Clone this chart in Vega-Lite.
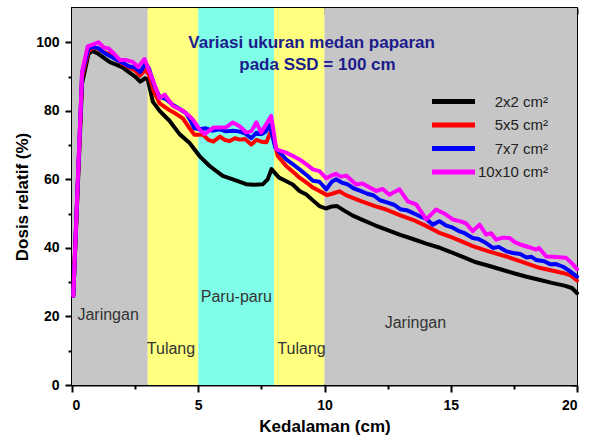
{
  "$schema": "https://vega.github.io/schema/vega-lite/v6.json",
  "width": 505,
  "height": 377,
  "autosize": {"type": "none"},
  "padding": {"left": 72, "top": 8, "right": 13, "bottom": 52},
  "background": "white",
  "config": {
    "view": {"stroke": "black", "strokeWidth": 2},
    "font": "Liberation Sans",
    "axis": {"grid": false, "zindex": 1, "ticks": true, "tickColor": "black", "tickOpacity": 1, "tickWidth": 2, "domainColor": "black", "domainWidth": 2}
  },
  "datasets": {
    "regions": [
      {"tissue": "Jaringan", "start": 0, "end": 3},
      {"tissue": "Tulang", "start": 3, "end": 5},
      {"tissue": "Paru-paru", "start": 5, "end": 8},
      {"tissue": "Tulang", "start": 8, "end": 10},
      {"tissue": "Jaringan", "start": 10, "end": 20}
    ],
    "dose": [
      {"field": "2x2 cm²", "depth": 0.05, "dose": 26},
      {"field": "2x2 cm²", "depth": 0.4, "dose": 88},
      {"field": "2x2 cm²", "depth": 0.65, "dose": 96.5},
      {"field": "2x2 cm²", "depth": 0.8, "dose": 97.5},
      {"field": "2x2 cm²", "depth": 1.0, "dose": 96.8},
      {"field": "2x2 cm²", "depth": 1.25, "dose": 95.5},
      {"field": "2x2 cm²", "depth": 1.5, "dose": 94.2},
      {"field": "2x2 cm²", "depth": 1.75, "dose": 93.5},
      {"field": "2x2 cm²", "depth": 2.0, "dose": 92.7},
      {"field": "2x2 cm²", "depth": 2.25, "dose": 91.3},
      {"field": "2x2 cm²", "depth": 2.5, "dose": 90},
      {"field": "2x2 cm²", "depth": 2.7, "dose": 88.5},
      {"field": "2x2 cm²", "depth": 2.9, "dose": 89.5},
      {"field": "2x2 cm²", "depth": 3.0, "dose": 89.2},
      {"field": "2x2 cm²", "depth": 3.2, "dose": 82.7},
      {"field": "2x2 cm²", "depth": 3.47, "dose": 80},
      {"field": "2x2 cm²", "depth": 3.86, "dose": 77.1},
      {"field": "2x2 cm²", "depth": 4.26, "dose": 73.2},
      {"field": "2x2 cm²", "depth": 4.65, "dose": 70.7},
      {"field": "2x2 cm²", "depth": 5.05, "dose": 66.8},
      {"field": "2x2 cm²", "depth": 5.45, "dose": 63.9},
      {"field": "2x2 cm²", "depth": 5.97, "dose": 61},
      {"field": "2x2 cm²", "depth": 6.37, "dose": 60},
      {"field": "2x2 cm²", "depth": 6.9, "dose": 58.6},
      {"field": "2x2 cm²", "depth": 7.2, "dose": 58.4},
      {"field": "2x2 cm²", "depth": 7.56, "dose": 58.6},
      {"field": "2x2 cm²", "depth": 7.75, "dose": 60},
      {"field": "2x2 cm²", "depth": 7.9, "dose": 63},
      {"field": "2x2 cm²", "depth": 8.2, "dose": 60.5},
      {"field": "2x2 cm²", "depth": 8.45, "dose": 59.6},
      {"field": "2x2 cm²", "depth": 8.74, "dose": 58.5},
      {"field": "2x2 cm²", "depth": 9.01, "dose": 56.6},
      {"field": "2x2 cm²", "depth": 9.28, "dose": 55.6},
      {"field": "2x2 cm²", "depth": 9.55, "dose": 53.8},
      {"field": "2x2 cm²", "depth": 9.8, "dose": 52.2},
      {"field": "2x2 cm²", "depth": 10.05, "dose": 51.5},
      {"field": "2x2 cm²", "depth": 10.3, "dose": 52.1},
      {"field": "2x2 cm²", "depth": 10.5, "dose": 52.2},
      {"field": "2x2 cm²", "depth": 10.8, "dose": 50.8},
      {"field": "2x2 cm²", "depth": 11.1, "dose": 49.5},
      {"field": "2x2 cm²", "depth": 11.5, "dose": 48.2},
      {"field": "2x2 cm²", "depth": 12.0, "dose": 46.6},
      {"field": "2x2 cm²", "depth": 12.5, "dose": 45.2},
      {"field": "2x2 cm²", "depth": 13.0, "dose": 43.8},
      {"field": "2x2 cm²", "depth": 13.5, "dose": 42.6},
      {"field": "2x2 cm²", "depth": 14.0, "dose": 41.3},
      {"field": "2x2 cm²", "depth": 14.5, "dose": 40.2},
      {"field": "2x2 cm²", "depth": 15.0, "dose": 38.8},
      {"field": "2x2 cm²", "depth": 15.5, "dose": 37.3},
      {"field": "2x2 cm²", "depth": 16.0, "dose": 35.8},
      {"field": "2x2 cm²", "depth": 16.5, "dose": 34.8},
      {"field": "2x2 cm²", "depth": 17.0, "dose": 33.7},
      {"field": "2x2 cm²", "depth": 17.5, "dose": 32.6},
      {"field": "2x2 cm²", "depth": 18.0, "dose": 31.6},
      {"field": "2x2 cm²", "depth": 18.5, "dose": 30.7},
      {"field": "2x2 cm²", "depth": 19.0, "dose": 29.8},
      {"field": "2x2 cm²", "depth": 19.5, "dose": 29},
      {"field": "2x2 cm²", "depth": 19.8, "dose": 28.3},
      {"field": "2x2 cm²", "depth": 20.0, "dose": 26.8},

      {"field": "5x5 cm²", "depth": 0.05, "dose": 26},
      {"field": "5x5 cm²", "depth": 0.4, "dose": 90},
      {"field": "5x5 cm²", "depth": 0.65, "dose": 97.5},
      {"field": "5x5 cm²", "depth": 0.85, "dose": 98.5},
      {"field": "5x5 cm²", "depth": 1.05, "dose": 98},
      {"field": "5x5 cm²", "depth": 1.3, "dose": 97},
      {"field": "5x5 cm²", "depth": 1.5, "dose": 96.5},
      {"field": "5x5 cm²", "depth": 1.75, "dose": 95},
      {"field": "5x5 cm²", "depth": 2.0, "dose": 93.8},
      {"field": "5x5 cm²", "depth": 2.25, "dose": 92.7},
      {"field": "5x5 cm²", "depth": 2.5, "dose": 91.8},
      {"field": "5x5 cm²", "depth": 2.7, "dose": 90.3},
      {"field": "5x5 cm²", "depth": 2.9, "dose": 92},
      {"field": "5x5 cm²", "depth": 3.05, "dose": 90.5},
      {"field": "5x5 cm²", "depth": 3.25, "dose": 85.5},
      {"field": "5x5 cm²", "depth": 3.47, "dose": 82.2},
      {"field": "5x5 cm²", "depth": 3.86, "dose": 80.2},
      {"field": "5x5 cm²", "depth": 4.1, "dose": 79.2},
      {"field": "5x5 cm²", "depth": 4.39, "dose": 77.8},
      {"field": "5x5 cm²", "depth": 4.6, "dose": 75.5},
      {"field": "5x5 cm²", "depth": 4.85, "dose": 73},
      {"field": "5x5 cm²", "depth": 5.2, "dose": 73},
      {"field": "5x5 cm²", "depth": 5.4, "dose": 71.5},
      {"field": "5x5 cm²", "depth": 5.6, "dose": 71},
      {"field": "5x5 cm²", "depth": 5.86, "dose": 72.5},
      {"field": "5x5 cm²", "depth": 6.05, "dose": 71.5},
      {"field": "5x5 cm²", "depth": 6.25, "dose": 71.2},
      {"field": "5x5 cm²", "depth": 6.45, "dose": 72},
      {"field": "5x5 cm²", "depth": 6.65, "dose": 71.6},
      {"field": "5x5 cm²", "depth": 6.85, "dose": 71.8},
      {"field": "5x5 cm²", "depth": 7.1, "dose": 70.2},
      {"field": "5x5 cm²", "depth": 7.3, "dose": 71.5},
      {"field": "5x5 cm²", "depth": 7.5, "dose": 71},
      {"field": "5x5 cm²", "depth": 7.7, "dose": 70.8},
      {"field": "5x5 cm²", "depth": 7.89, "dose": 74.3},
      {"field": "5x5 cm²", "depth": 8.15, "dose": 66.8},
      {"field": "5x5 cm²", "depth": 8.48, "dose": 63.9},
      {"field": "5x5 cm²", "depth": 8.75, "dose": 62.2},
      {"field": "5x5 cm²", "depth": 9.01, "dose": 60.5},
      {"field": "5x5 cm²", "depth": 9.3, "dose": 59},
      {"field": "5x5 cm²", "depth": 9.54, "dose": 57.6},
      {"field": "5x5 cm²", "depth": 9.8, "dose": 56.6},
      {"field": "5x5 cm²", "depth": 10.1, "dose": 55.4},
      {"field": "5x5 cm²", "depth": 10.3, "dose": 55.8},
      {"field": "5x5 cm²", "depth": 10.59, "dose": 56.5},
      {"field": "5x5 cm²", "depth": 10.85, "dose": 55.4},
      {"field": "5x5 cm²", "depth": 11.12, "dose": 54.6},
      {"field": "5x5 cm²", "depth": 11.5, "dose": 53.5},
      {"field": "5x5 cm²", "depth": 12.0, "dose": 52.2},
      {"field": "5x5 cm²", "depth": 12.44, "dose": 51.2},
      {"field": "5x5 cm²", "depth": 13.0, "dose": 49.5},
      {"field": "5x5 cm²", "depth": 13.5, "dose": 48.2},
      {"field": "5x5 cm²", "depth": 14.0, "dose": 46.5},
      {"field": "5x5 cm²", "depth": 14.55, "dose": 44.4},
      {"field": "5x5 cm²", "depth": 15.0, "dose": 43.2},
      {"field": "5x5 cm²", "depth": 15.5, "dose": 41.7},
      {"field": "5x5 cm²", "depth": 15.87, "dose": 40.5},
      {"field": "5x5 cm²", "depth": 16.5, "dose": 39},
      {"field": "5x5 cm²", "depth": 17.2, "dose": 37.5},
      {"field": "5x5 cm²", "depth": 17.8, "dose": 36},
      {"field": "5x5 cm²", "depth": 18.51, "dose": 34.2},
      {"field": "5x5 cm²", "depth": 19.0, "dose": 33.4},
      {"field": "5x5 cm²", "depth": 19.44, "dose": 32.7},
      {"field": "5x5 cm²", "depth": 19.75, "dose": 32},
      {"field": "5x5 cm²", "depth": 20.0, "dose": 30.5},

      {"field": "7x7 cm²", "depth": 0.05, "dose": 26},
      {"field": "7x7 cm²", "depth": 0.4, "dose": 91},
      {"field": "7x7 cm²", "depth": 0.65, "dose": 98.2},
      {"field": "7x7 cm²", "depth": 0.85, "dose": 98.6},
      {"field": "7x7 cm²", "depth": 1.05, "dose": 98.2},
      {"field": "7x7 cm²", "depth": 1.3, "dose": 96.8},
      {"field": "7x7 cm²", "depth": 1.5, "dose": 96},
      {"field": "7x7 cm²", "depth": 1.75, "dose": 95},
      {"field": "7x7 cm²", "depth": 2.0, "dose": 94},
      {"field": "7x7 cm²", "depth": 2.25, "dose": 93},
      {"field": "7x7 cm²", "depth": 2.5, "dose": 92.6},
      {"field": "7x7 cm²", "depth": 2.7, "dose": 91.3},
      {"field": "7x7 cm²", "depth": 2.92, "dose": 93.8},
      {"field": "7x7 cm²", "depth": 3.05, "dose": 92.3},
      {"field": "7x7 cm²", "depth": 3.25, "dose": 87.5},
      {"field": "7x7 cm²", "depth": 3.47, "dose": 84.1},
      {"field": "7x7 cm²", "depth": 3.7, "dose": 83.5},
      {"field": "7x7 cm²", "depth": 4.0, "dose": 81.7},
      {"field": "7x7 cm²", "depth": 4.25, "dose": 80.6},
      {"field": "7x7 cm²", "depth": 4.52, "dose": 79.3},
      {"field": "7x7 cm²", "depth": 4.7, "dose": 77},
      {"field": "7x7 cm²", "depth": 4.85, "dose": 74.9},
      {"field": "7x7 cm²", "depth": 5.05, "dose": 74.6},
      {"field": "7x7 cm²", "depth": 5.3, "dose": 74.9},
      {"field": "7x7 cm²", "depth": 5.55, "dose": 74.2},
      {"field": "7x7 cm²", "depth": 5.84, "dose": 74.6},
      {"field": "7x7 cm²", "depth": 6.1, "dose": 74},
      {"field": "7x7 cm²", "depth": 6.37, "dose": 74.2},
      {"field": "7x7 cm²", "depth": 6.6, "dose": 74},
      {"field": "7x7 cm²", "depth": 6.85, "dose": 73.4},
      {"field": "7x7 cm²", "depth": 7.1, "dose": 72},
      {"field": "7x7 cm²", "depth": 7.3, "dose": 73.6},
      {"field": "7x7 cm²", "depth": 7.5, "dose": 73.2},
      {"field": "7x7 cm²", "depth": 7.65, "dose": 73.8},
      {"field": "7x7 cm²", "depth": 7.84, "dose": 75.8},
      {"field": "7x7 cm²", "depth": 8.05, "dose": 69.3},
      {"field": "7x7 cm²", "depth": 8.3, "dose": 67.3},
      {"field": "7x7 cm²", "depth": 8.48, "dose": 65.8},
      {"field": "7x7 cm²", "depth": 8.75, "dose": 64.4},
      {"field": "7x7 cm²", "depth": 9.01, "dose": 62.9},
      {"field": "7x7 cm²", "depth": 9.3, "dose": 61.2},
      {"field": "7x7 cm²", "depth": 9.54, "dose": 59.6},
      {"field": "7x7 cm²", "depth": 9.8, "dose": 59.3},
      {"field": "7x7 cm²", "depth": 10.07, "dose": 57.1},
      {"field": "7x7 cm²", "depth": 10.3, "dose": 59.4},
      {"field": "7x7 cm²", "depth": 10.46, "dose": 60},
      {"field": "7x7 cm²", "depth": 10.7, "dose": 59},
      {"field": "7x7 cm²", "depth": 10.9, "dose": 58.6},
      {"field": "7x7 cm²", "depth": 11.15, "dose": 57.4},
      {"field": "7x7 cm²", "depth": 11.4, "dose": 56.7},
      {"field": "7x7 cm²", "depth": 11.7, "dose": 55.8},
      {"field": "7x7 cm²", "depth": 11.95, "dose": 55.3},
      {"field": "7x7 cm²", "depth": 12.2, "dose": 53.9},
      {"field": "7x7 cm²", "depth": 12.5, "dose": 53.2},
      {"field": "7x7 cm²", "depth": 12.75, "dose": 52.6},
      {"field": "7x7 cm²", "depth": 13.0, "dose": 51.3},
      {"field": "7x7 cm²", "depth": 13.25, "dose": 51},
      {"field": "7x7 cm²", "depth": 13.5, "dose": 50.2},
      {"field": "7x7 cm²", "depth": 13.76, "dose": 49.3},
      {"field": "7x7 cm²", "depth": 14.0, "dose": 48.6},
      {"field": "7x7 cm²", "depth": 14.29, "dose": 46.8},
      {"field": "7x7 cm²", "depth": 14.55, "dose": 47.8},
      {"field": "7x7 cm²", "depth": 14.8, "dose": 46.6},
      {"field": "7x7 cm²", "depth": 15.08, "dose": 45.9},
      {"field": "7x7 cm²", "depth": 15.3, "dose": 45},
      {"field": "7x7 cm²", "depth": 15.55, "dose": 44.3},
      {"field": "7x7 cm²", "depth": 15.87, "dose": 42.9},
      {"field": "7x7 cm²", "depth": 16.1, "dose": 42.6},
      {"field": "7x7 cm²", "depth": 16.4, "dose": 41.4},
      {"field": "7x7 cm²", "depth": 16.67, "dose": 40},
      {"field": "7x7 cm²", "depth": 16.9, "dose": 40.3},
      {"field": "7x7 cm²", "depth": 17.2, "dose": 39},
      {"field": "7x7 cm²", "depth": 17.46, "dose": 38.5},
      {"field": "7x7 cm²", "depth": 17.75, "dose": 38.2},
      {"field": "7x7 cm²", "depth": 18.0, "dose": 37.2},
      {"field": "7x7 cm²", "depth": 18.2, "dose": 37.4},
      {"field": "7x7 cm²", "depth": 18.38, "dose": 36.5},
      {"field": "7x7 cm²", "depth": 18.7, "dose": 36.1},
      {"field": "7x7 cm²", "depth": 18.95, "dose": 35.2},
      {"field": "7x7 cm²", "depth": 19.17, "dose": 35.3},
      {"field": "7x7 cm²", "depth": 19.45, "dose": 34.5},
      {"field": "7x7 cm²", "depth": 19.7, "dose": 33.3},
      {"field": "7x7 cm²", "depth": 20.0, "dose": 31.6},

      {"field": "10x10 cm²", "depth": 0.05, "dose": 26},
      {"field": "10x10 cm²", "depth": 0.4, "dose": 91.5},
      {"field": "10x10 cm²", "depth": 0.62, "dose": 98.8},
      {"field": "10x10 cm²", "depth": 0.82, "dose": 99.3},
      {"field": "10x10 cm²", "depth": 1.05, "dose": 100},
      {"field": "10x10 cm²", "depth": 1.25, "dose": 98.5},
      {"field": "10x10 cm²", "depth": 1.45, "dose": 98.2},
      {"field": "10x10 cm²", "depth": 1.65, "dose": 96.8},
      {"field": "10x10 cm²", "depth": 1.9, "dose": 94.8},
      {"field": "10x10 cm²", "depth": 2.15, "dose": 94.8},
      {"field": "10x10 cm²", "depth": 2.4, "dose": 94.3},
      {"field": "10x10 cm²", "depth": 2.62, "dose": 92.8},
      {"field": "10x10 cm²", "depth": 2.87, "dose": 95.1},
      {"field": "10x10 cm²", "depth": 3.2, "dose": 89},
      {"field": "10x10 cm²", "depth": 3.47, "dose": 83.7},
      {"field": "10x10 cm²", "depth": 3.67, "dose": 84.7},
      {"field": "10x10 cm²", "depth": 4.0, "dose": 81.4},
      {"field": "10x10 cm²", "depth": 4.4, "dose": 80},
      {"field": "10x10 cm²", "depth": 4.6, "dose": 78.8},
      {"field": "10x10 cm²", "depth": 4.78, "dose": 77.5},
      {"field": "10x10 cm²", "depth": 5.05, "dose": 74.6},
      {"field": "10x10 cm²", "depth": 5.25, "dose": 73.2},
      {"field": "10x10 cm²", "depth": 5.6, "dose": 75.1},
      {"field": "10x10 cm²", "depth": 5.84, "dose": 75.1},
      {"field": "10x10 cm²", "depth": 6.1, "dose": 75.2},
      {"field": "10x10 cm²", "depth": 6.37, "dose": 76.6},
      {"field": "10x10 cm²", "depth": 6.65, "dose": 75.4},
      {"field": "10x10 cm²", "depth": 6.9, "dose": 73.7},
      {"field": "10x10 cm²", "depth": 7.1, "dose": 74},
      {"field": "10x10 cm²", "depth": 7.3, "dose": 76.6},
      {"field": "10x10 cm²", "depth": 7.49, "dose": 73.7},
      {"field": "10x10 cm²", "depth": 7.89, "dose": 78.5},
      {"field": "10x10 cm²", "depth": 8.09, "dose": 68.8},
      {"field": "10x10 cm²", "depth": 8.3, "dose": 68.2},
      {"field": "10x10 cm²", "depth": 8.48, "dose": 67.8},
      {"field": "10x10 cm²", "depth": 8.75, "dose": 66.8},
      {"field": "10x10 cm²", "depth": 9.01, "dose": 65.8},
      {"field": "10x10 cm²", "depth": 9.3, "dose": 64.3},
      {"field": "10x10 cm²", "depth": 9.54, "dose": 62.9},
      {"field": "10x10 cm²", "depth": 9.8, "dose": 62.4},
      {"field": "10x10 cm²", "depth": 10.07, "dose": 60.3},
      {"field": "10x10 cm²", "depth": 10.3, "dose": 61.2},
      {"field": "10x10 cm²", "depth": 10.46, "dose": 61.6},
      {"field": "10x10 cm²", "depth": 10.65, "dose": 60.8},
      {"field": "10x10 cm²", "depth": 10.86, "dose": 61.1},
      {"field": "10x10 cm²", "depth": 11.25, "dose": 58.5},
      {"field": "10x10 cm²", "depth": 11.5, "dose": 58.8},
      {"field": "10x10 cm²", "depth": 11.7, "dose": 58},
      {"field": "10x10 cm²", "depth": 12.05, "dose": 56.6},
      {"field": "10x10 cm²", "depth": 12.3, "dose": 57.2},
      {"field": "10x10 cm²", "depth": 12.57, "dose": 55.5},
      {"field": "10x10 cm²", "depth": 12.97, "dose": 57.1},
      {"field": "10x10 cm²", "depth": 13.3, "dose": 53.6},
      {"field": "10x10 cm²", "depth": 13.63, "dose": 52.7},
      {"field": "10x10 cm²", "depth": 14.03, "dose": 48.3},
      {"field": "10x10 cm²", "depth": 14.42, "dose": 51.2},
      {"field": "10x10 cm²", "depth": 14.8, "dose": 49.8},
      {"field": "10x10 cm²", "depth": 15.08, "dose": 48.3},
      {"field": "10x10 cm²", "depth": 15.35, "dose": 47.8},
      {"field": "10x10 cm²", "depth": 15.6, "dose": 47.2},
      {"field": "10x10 cm²", "depth": 15.87, "dose": 44.9},
      {"field": "10x10 cm²", "depth": 16.14, "dose": 46.8},
      {"field": "10x10 cm²", "depth": 16.4, "dose": 43.9},
      {"field": "10x10 cm²", "depth": 16.6, "dose": 44.3},
      {"field": "10x10 cm²", "depth": 16.8, "dose": 42.4},
      {"field": "10x10 cm²", "depth": 17.05, "dose": 43},
      {"field": "10x10 cm²", "depth": 17.33, "dose": 42.9},
      {"field": "10x10 cm²", "depth": 17.55, "dose": 41.6},
      {"field": "10x10 cm²", "depth": 17.75, "dose": 41},
      {"field": "10x10 cm²", "depth": 18.1, "dose": 40.2},
      {"field": "10x10 cm²", "depth": 18.38, "dose": 39.5},
      {"field": "10x10 cm²", "depth": 18.5, "dose": 40},
      {"field": "10x10 cm²", "depth": 18.78, "dose": 37.5},
      {"field": "10x10 cm²", "depth": 19.05, "dose": 37.4},
      {"field": "10x10 cm²", "depth": 19.3, "dose": 37.3},
      {"field": "10x10 cm²", "depth": 19.57, "dose": 37.1},
      {"field": "10x10 cm²", "depth": 19.8, "dose": 35.5},
      {"field": "10x10 cm²", "depth": 20.0, "dose": 33.8}
    ]
  },
  "layer": [
    {
      "data": {"name": "regions"},
      "mark": {"type": "rect"},
      "encoding": {
        "x": {
          "field": "start", "type": "quantitative",
          "scale": {"domain": [0, 20], "nice": false, "zero": false},
          "axis": {
            "orient": "bottom", "values": [0, 2.5, 5, 7.5, 10, 12.5, 15, 17.5, 20],
            "tickSize": {"condition": {"test": "datum.value % 5 === 0", "value": 7}, "value": 4},
            "labelExpr": "datum.value % 5 === 0 ? datum.label : ''",
            "labelFont": "Liberation Sans", "labelFontWeight": "bold", "labelFontSize": 14, "labelColor": "black", "labelPadding": 6,
            "title": "Kedalaman (cm)", "titleFont": "Liberation Sans", "titleFontWeight": "bold", "titleFontSize": 17, "titleColor": "black", "titlePadding": 6
          }
        },
        "x2": {"field": "end"},
        "fill": {
          "field": "tissue", "type": "nominal",
          "scale": {"domain": ["Jaringan", "Tulang", "Paru-paru"], "range": ["#c6c6c6", "#ffff80", "#80ffe8"]},
          "legend": null
        }
      }
    },
    {
      "data": {"name": "dose"},
      "mark": {"type": "line", "strokeWidth": 4, "strokeJoin": "round", "strokeCap": "round"},
      "encoding": {
        "x": {"field": "depth", "type": "quantitative", "axis": null},
        "y": {
          "field": "dose", "type": "quantitative",
          "scale": {"domain": [0, 110], "nice": false, "zero": false},
          "axis": {
            "orient": "left", "values": [0, 10, 20, 30, 40, 50, 60, 70, 80, 90, 100],
            "tickSize": {"condition": {"test": "datum.value % 20 === 0", "value": 7}, "value": 4},
            "labelExpr": "datum.value % 20 === 0 ? datum.label : ''",
            "labelFont": "Liberation Sans", "labelFontWeight": "bold", "labelFontSize": 14, "labelColor": "black", "labelPadding": 6,
            "title": "Dosis relatif (%)", "titleFont": "Liberation Sans", "titleFontWeight": "bold", "titleFontSize": 17, "titleColor": "black", "titlePadding": 4
          }
        },
        "stroke": {
          "field": "field", "type": "nominal",
          "scale": {"domain": ["2x2 cm²", "5x5 cm²", "7x7 cm²", "10x10 cm²"], "range": ["#000000", "#ff0000", "#0000ff", "#ff00ff"]},
          "legend": {
            "title": null, "orient": "none", "legendX": 374, "legendY": 86, "padding": 0,
            "symbolType": "M-4.3,0H4.3", "symbolSize": 100, "symbolStrokeWidth": 5, "symbolFillColor": "transparent",
            "rowPadding": 2.5, "labelAlign": "right", "labelOffset": 87,
            "labelFont": "Liberation Sans", "labelFontSize": 15, "labelColor": "#222222", "labelLimit": 200
          }
        }
      }
    },
    {
      "data": {"values": [{}]},
      "mark": {"type": "text", "font": "Liberation Sans", "fontSize": 16, "color": "#333333"},
      "encoding": {
        "x": {"datum": 1.43, "type": "quantitative", "axis": {"orient": "top", "values": [0, 2, 4, 6, 8, 10, 12, 14, 16, 18, 20], "tickSize": -6, "domain": false, "labels": false, "title": null}},
        "y": {"datum": 20.3, "type": "quantitative", "axis": {"orient": "right", "values": [0, 11, 22, 33, 44, 55, 66, 77, 88, 99, 110], "tickSize": -6, "domain": false, "labels": false, "title": null}},
        "text": {"value": "Jaringan"}
      }
    },
    {
      "data": {"values": [{}]},
      "mark": {"type": "text", "font": "Liberation Sans", "fontSize": 16, "color": "#333333"},
      "encoding": {
        "x": {"datum": 3.92, "type": "quantitative", "axis": null},
        "y": {"datum": 10.4, "type": "quantitative", "axis": null},
        "text": {"value": "Tulang"}
      }
    },
    {
      "data": {"values": [{}]},
      "mark": {"type": "text", "font": "Liberation Sans", "fontSize": 16, "color": "#333333"},
      "encoding": {
        "x": {"datum": 6.51, "type": "quantitative", "axis": null},
        "y": {"datum": 25.8, "type": "quantitative", "axis": null},
        "text": {"value": "Paru-paru"}
      }
    },
    {
      "data": {"values": [{}]},
      "mark": {"type": "text", "font": "Liberation Sans", "fontSize": 16, "color": "#333333"},
      "encoding": {
        "x": {"datum": 9.09, "type": "quantitative", "axis": null},
        "y": {"datum": 10.4, "type": "quantitative", "axis": null},
        "text": {"value": "Tulang"}
      }
    },
    {
      "data": {"values": [{}]},
      "mark": {"type": "text", "font": "Liberation Sans", "fontSize": 16, "color": "#333333"},
      "encoding": {
        "x": {"datum": 13.6, "type": "quantitative", "axis": null},
        "y": {"datum": 18, "type": "quantitative", "axis": null},
        "text": {"value": "Jaringan"}
      }
    },
    {
      "data": {"values": [{}]},
      "mark": {"type": "text", "font": "Liberation Sans", "fontSize": 17, "fontWeight": "bold", "color": "#1c1c8c"},
      "encoding": {
        "x": {"datum": 9.49, "type": "quantitative", "axis": null},
        "y": {"datum": 99.8, "type": "quantitative", "axis": null},
        "text": {"value": "Variasi ukuran medan paparan"}
      }
    },
    {
      "data": {"values": [{}]},
      "mark": {"type": "text", "font": "Liberation Sans", "fontSize": 17, "fontWeight": "bold", "color": "#1c1c8c"},
      "encoding": {
        "x": {"datum": 9.72, "type": "quantitative", "axis": null},
        "y": {"datum": 93.3, "type": "quantitative", "axis": null},
        "text": {"value": "pada SSD = 100 cm"}
      }
    }
  ],
  "resolve": {"axis": {"x": "independent", "y": "independent"}}
}
